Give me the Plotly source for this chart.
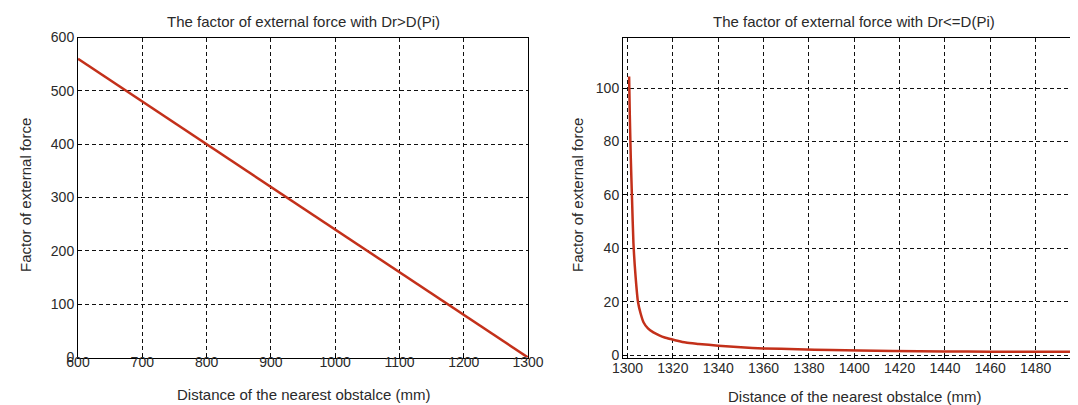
import plotly.graph_objects as go

# Left panel: Dr > D(Pi)
left_x = [600, 700, 800, 900, 1000, 1100, 1200, 1300]
left_y = [560, 480, 400, 320, 240, 160, 80, 0]

# Right panel: Dr <= D(Pi)
right_x = [1300.7, 1301.0, 1301.4, 1302.0, 1302.6, 1303.5, 1304.6, 1305.8, 1307.1, 1309.0,
           1311.4, 1314.0, 1316.4, 1319.0, 1321.4, 1325.7, 1331.4, 1340, 1350, 1360,
           1375, 1390, 1402, 1417, 1440, 1460, 1480, 1502]
right_y = [104.4, 90, 75, 58, 42, 30, 20, 15.5, 12.2, 10.0,
           8.5, 7.4, 6.6, 6.0, 5.5, 4.7, 4.2, 3.5, 2.9, 2.5,
           2.2, 1.9, 1.75, 1.5, 1.35, 1.3, 1.27, 1.25]

left_xticks = [600, 700, 800, 900, 1000, 1100, 1200, 1300]
left_yticks = [0, 100, 200, 300, 400, 500, 600]
right_xticks = [1300, 1320, 1340, 1360, 1380, 1400, 1420, 1440, 1460, 1480]
right_yticks = [0, 20, 40, 60, 80, 100]

title_left = "The factor of external force with Dr>D(Pi)"
title_right = "The factor of external force with Dr<=D(Pi)"
xlabel = "Distance of the nearest obstalce (mm)"
ylabel = "Factor of external force"

W, H = 1078, 405
FONT = "Liberation Sans, Arial, sans-serif"
TXT = "#2a2a2a"
LINE_COLOR = "#c3301a"

fig = go.Figure()
fig.add_trace(go.Scatter(x=left_x, y=left_y, mode="lines",
                         line=dict(color=LINE_COLOR, width=2.5),
                         xaxis="x", yaxis="y", showlegend=False))
fig.add_trace(go.Scatter(x=right_x, y=right_y, mode="lines",
                         line=dict(color=LINE_COLOR, width=2.5, shape="spline", smoothing=0.6),
                         xaxis="x2", yaxis="y2", showlegend=False))

ybot, ytop = 349.5, 29.5
ydom = [(H - ybot) / H, (H - ytop) / H]

axis_common = dict(
    showline=True, linecolor="black", linewidth=1, mirror=True,
    showgrid=True, gridcolor="#111", griddash="4px,3px", gridwidth=1,
    ticks="inside", ticklen=4, tickcolor="black",
    zeroline=False, automargin=False,
    tickfont=dict(family=FONT, size=14, color=TXT),
)

fig.update_layout(
    width=W, height=H,
    margin=dict(l=0, r=0, t=0, b=0),
    paper_bgcolor="white", plot_bgcolor="white",
    font=dict(family=FONT, size=15, color=TXT),
    xaxis=dict(domain=[70 / W, 520 / W], range=[600, 1300], tickvals=left_xticks,
               anchor="y", ticklabelstandoff=-8, **axis_common),
    yaxis=dict(domain=ydom, range=[0, 600], tickvals=left_yticks,
               anchor="x", **axis_common),
    xaxis2=dict(domain=[615 / W, 1.0], range=[1298.0, 1502.2], tickvals=right_xticks,
                anchor="y2", ticklabelstandoff=-2, **axis_common),
    yaxis2=dict(domain=ydom, range=[-0.9, 119], tickvals=right_yticks,
                anchor="x2", **axis_common),
)

ann = []
ann.append(dict(text=title_left, x=295 / W, y=1 - 13 / H, xref="paper", yref="paper",
                showarrow=False, xanchor="center", yanchor="middle", font=dict(size=15)))
ann.append(dict(text=title_right, x=846 / W, y=1 - 13 / H, xref="paper", yref="paper",
                showarrow=False, xanchor="center", yanchor="middle", font=dict(size=15)))
ann.append(dict(text=xlabel, x=295 / W, y=1 - 386 / H, xref="paper", yref="paper",
                showarrow=False, xanchor="center", yanchor="middle", font=dict(size=15)))
ann.append(dict(text=xlabel, x=846 / W, y=1 - 388 / H, xref="paper", yref="paper",
                showarrow=False, xanchor="center", yanchor="middle", font=dict(size=15)))
ann.append(dict(text=ylabel, x=18 / W, y=1 - 187 / H, xref="paper", yref="paper",
                showarrow=False, xanchor="center", yanchor="middle", textangle=-90,
                font=dict(size=15)))
ann.append(dict(text=ylabel, x=570 / W, y=1 - 187 / H, xref="paper", yref="paper",
                showarrow=False, xanchor="center", yanchor="middle", textangle=-90,
                font=dict(size=15)))
fig.update_layout(annotations=ann)

fig.write_html("out.html")
